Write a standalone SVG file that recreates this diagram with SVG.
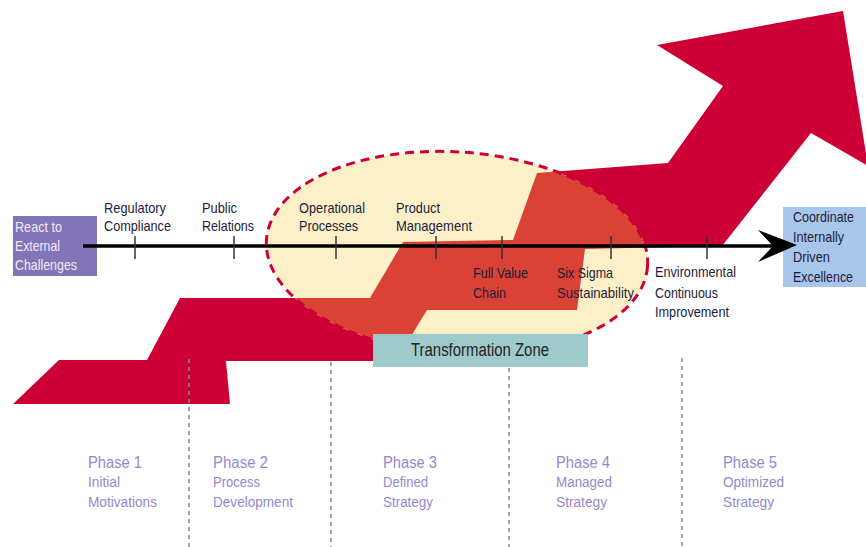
<svg xmlns="http://www.w3.org/2000/svg" width="866" height="547" viewBox="0 0 866 547">
<style>
.lbl{font-family:"Liberation Sans",Arial,sans-serif;font-size:14.5px;fill:#1c1c3c;}
.wht{font-family:"Liberation Sans",Arial,sans-serif;font-size:14.5px;fill:#efeaf6;}
.ph{font-family:"Liberation Sans",Arial,sans-serif;font-size:16px;fill:#9488cc;}
.phs{font-family:"Liberation Sans",Arial,sans-serif;font-size:14px;fill:#9488cc;}
.tz{font-family:"Liberation Sans",Arial,sans-serif;font-size:18px;fill:#222;}
.tick{stroke:#333;stroke-width:1.5;}
.sep{stroke:#8a8a8a;stroke-width:1.5;stroke-dasharray:4 4;fill:none;}
</style>
<defs>
<path id="arrowShape" d="M13,404 L59,360 L147,360 L180,298 L370,298 L403,242 L513,240 L537,173 L668,163 L723,86 L657,45 L843,11 L868,166 L811,133 L722,246 L585,249 L577,310 L427,310 L396,361 L226,361 L230,404 Z"/>
<clipPath id="ellClip"><ellipse cx="457" cy="253" rx="191" ry="101" transform="rotate(4 457 253)"/></clipPath>
</defs>
<rect width="866" height="547" fill="#ffffff"/>
<g id="connectors-separators">
<line class="sep" x1="331" y1="362" x2="331" y2="547"/>
<line class="sep" x1="509" y1="368" x2="509" y2="547"/>
<line class="sep" x1="682" y1="358" x2="682" y2="547"/>
</g>
<g id="growth-arrow">
<use href="#arrowShape" fill="#cc0035"/>
</g>
<g id="transformation-ellipse">
<ellipse cx="457" cy="253" rx="191" ry="101" transform="rotate(4 457 253)" fill="#fdf0c8"/>
<use href="#arrowShape" fill="#d94234" clip-path="url(#ellClip)"/>
<ellipse cx="457" cy="253" rx="191" ry="101" transform="rotate(4 457 253)" fill="none" stroke="#cc0035" stroke-width="3" stroke-dasharray="9 6"/>
</g>
<g id="sep-over-arrow">
<line class="sep" x1="189" y1="359" x2="189" y2="547" stroke="#b0b0b0"/>
</g>
<g id="node-start">
<rect x="13" y="216" width="84" height="60" fill="#8374b8"/>
<text class="wht" x="15" y="232" textLength="47" lengthAdjust="spacingAndGlyphs">React to</text>
<text class="wht" x="15" y="251" textLength="45" lengthAdjust="spacingAndGlyphs">External</text>
<text class="wht" x="15" y="270" textLength="62" lengthAdjust="spacingAndGlyphs">Challenges</text>
</g>
<g id="node-end">
<rect x="783" y="207" width="83" height="80" fill="#a8c6ea"/>
<text class="lbl" x="793" y="222" textLength="61" lengthAdjust="spacingAndGlyphs">Coordinate</text>
<text class="lbl" x="793" y="242" textLength="51" lengthAdjust="spacingAndGlyphs">Internally</text>
<text class="lbl" x="793" y="262" textLength="37" lengthAdjust="spacingAndGlyphs">Driven</text>
<text class="lbl" x="793" y="282" textLength="60" lengthAdjust="spacingAndGlyphs">Excellence</text>
</g>
<g id="connectors-axis">
<line x1="83" y1="246" x2="775" y2="246" stroke="#000" stroke-width="3.5"/>
<polygon points="758,230 797,245 758,262 773,246" fill="#000"/>
<line class="tick" x1="135" y1="236" x2="135" y2="259"/>
<line class="tick" x1="234" y1="236" x2="234" y2="259"/>
<line class="tick" x1="336" y1="236" x2="336" y2="259"/>
<line class="tick" x1="436" y1="236" x2="436" y2="259"/>
<line class="tick" x1="502" y1="236" x2="502" y2="259"/>
<line class="tick" x1="611" y1="236" x2="611" y2="259"/>
<line class="tick" x1="707" y1="236" x2="707" y2="259"/>
</g>
<g id="node-regulatory">
<text class="lbl" x="104" y="213" textLength="62" lengthAdjust="spacingAndGlyphs">Regulatory</text>
<text class="lbl" x="104" y="231" textLength="67" lengthAdjust="spacingAndGlyphs">Compliance</text>
</g>
<g id="node-public">
<text class="lbl" x="202" y="213" textLength="35" lengthAdjust="spacingAndGlyphs">Public</text>
<text class="lbl" x="202" y="231" textLength="52" lengthAdjust="spacingAndGlyphs">Relations</text>
</g>
<g id="node-operational">
<text class="lbl" x="299" y="213" textLength="66" lengthAdjust="spacingAndGlyphs">Operational</text>
<text class="lbl" x="299" y="231" textLength="59" lengthAdjust="spacingAndGlyphs">Processes</text>
</g>
<g id="node-product">
<text class="lbl" x="396" y="213" textLength="44" lengthAdjust="spacingAndGlyphs">Product</text>
<text class="lbl" x="396" y="231" textLength="76" lengthAdjust="spacingAndGlyphs">Management</text>
</g>
<g id="node-fullvalue">
<text class="lbl" x="473" y="278" textLength="55" lengthAdjust="spacingAndGlyphs">Full Value</text>
<text class="lbl" x="473" y="298" textLength="33" lengthAdjust="spacingAndGlyphs">Chain</text>
</g>
<g id="node-sixsigma">
<text class="lbl" x="557" y="278" textLength="56" lengthAdjust="spacingAndGlyphs">Six Sigma</text>
<text class="lbl" x="557" y="298" textLength="77" lengthAdjust="spacingAndGlyphs">Sustainability</text>
</g>
<g id="node-environmental">
<text class="lbl" x="655" y="277" textLength="81" lengthAdjust="spacingAndGlyphs">Environmental</text>
<text class="lbl" x="655" y="298" textLength="63" lengthAdjust="spacingAndGlyphs">Continuous</text>
<text class="lbl" x="655" y="317" textLength="74" lengthAdjust="spacingAndGlyphs">Improvement</text>
</g>
<g id="node-transformation-zone">
<rect x="373" y="334" width="215" height="33" fill="#9fcacb"/>
<text class="tz" x="411" y="356" textLength="138" lengthAdjust="spacingAndGlyphs">Transformation Zone</text>
</g>
<g id="phase-1">
<text class="ph" x="88" y="468" textLength="54" lengthAdjust="spacingAndGlyphs">Phase 1</text>
<text class="phs" x="88" y="487" textLength="32" lengthAdjust="spacingAndGlyphs">Initial</text>
<text class="phs" x="88" y="507" textLength="69" lengthAdjust="spacingAndGlyphs">Motivations</text>
</g>
<g id="phase-2">
<text class="ph" x="213" y="468" textLength="55" lengthAdjust="spacingAndGlyphs">Phase 2</text>
<text class="phs" x="213" y="487" textLength="47" lengthAdjust="spacingAndGlyphs">Process</text>
<text class="phs" x="213" y="507" textLength="80" lengthAdjust="spacingAndGlyphs">Development</text>
</g>
<g id="phase-3">
<text class="ph" x="383" y="468" textLength="54" lengthAdjust="spacingAndGlyphs">Phase 3</text>
<text class="phs" x="383" y="487" textLength="45" lengthAdjust="spacingAndGlyphs">Defined</text>
<text class="phs" x="383" y="507" textLength="50" lengthAdjust="spacingAndGlyphs">Strategy</text>
</g>
<g id="phase-4">
<text class="ph" x="556" y="468" textLength="54" lengthAdjust="spacingAndGlyphs">Phase 4</text>
<text class="phs" x="556" y="487" textLength="56" lengthAdjust="spacingAndGlyphs">Managed</text>
<text class="phs" x="556" y="507" textLength="51" lengthAdjust="spacingAndGlyphs">Strategy</text>
</g>
<g id="phase-5">
<text class="ph" x="723" y="468" textLength="54" lengthAdjust="spacingAndGlyphs">Phase 5</text>
<text class="phs" x="723" y="487" textLength="61" lengthAdjust="spacingAndGlyphs">Optimized</text>
<text class="phs" x="723" y="507" textLength="51" lengthAdjust="spacingAndGlyphs">Strategy</text>
</g>
</svg>
